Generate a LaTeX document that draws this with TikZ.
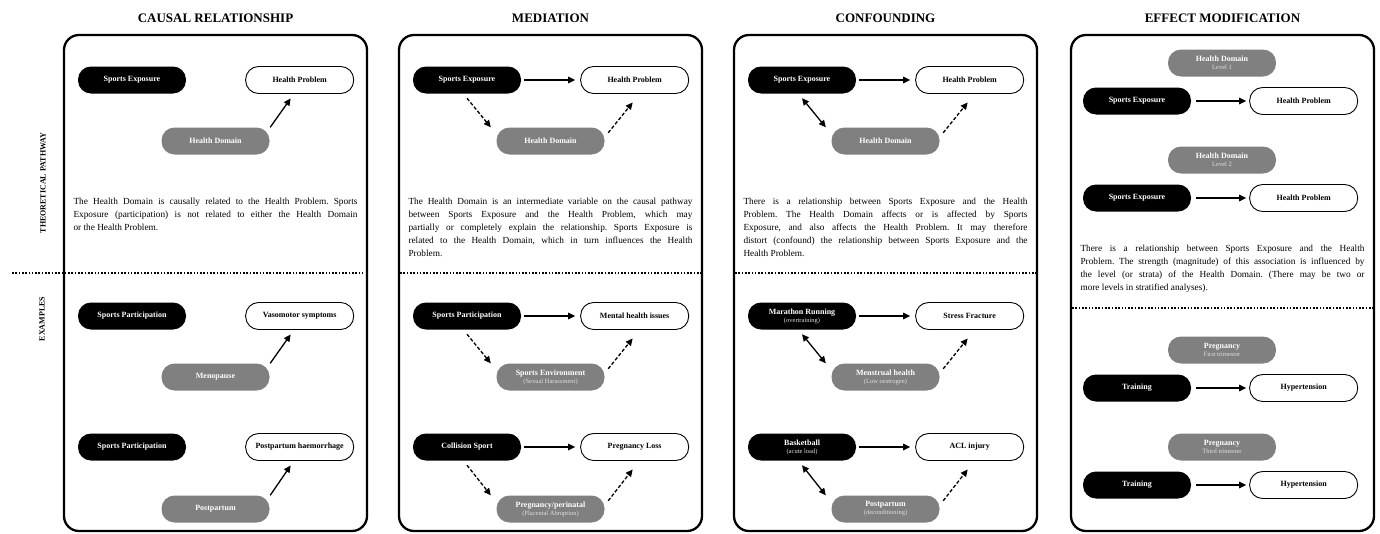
\documentclass[tikz,border=0pt]{standalone}
\usepackage{fontspec}
\setmainfont{Liberation Serif}
\usetikzlibrary{positioning,arrows.meta}

\newcommand{\subline}[1]{\\[-1pt]{\mdseries\fontsize{6.5}{7.5}\selectfont\color{black!12}#1}}

\begin{document}
\frenchspacing
\begin{tikzpicture}[x=1pt,y=-1pt,
exposure/.style={fill=black,
  text=white,
  rounded corners=13pt,
  minimum width=108pt,
  minimum height=27pt,
  inner sep=1pt,align=center,
  font=\fontsize{8}{9}\selectfont\bfseries
},
outcome/.style={exposure, fill=white, text=black, draw=black, line width=0.9pt},
healthdom/.style={exposure, fill=black!50},
panel/.style={line width=2.3pt, rounded corners=15pt},
title/.style={font=\fontsize{13}{15}\selectfont\bfseries},
side/.style={rotate=90, font=\fontsize{8}{9}\selectfont\bfseries},
note/.style={text width=284pt, align=justify, inner sep=0pt, anchor=north,
  font=\fontsize{9.3}{13}\selectfont},
divider/.style={line width=1.6pt, dash pattern=on 1.6pt off 1.7pt},
causal/.style={line width=1.3pt, -{Triangle[length=7pt,width=6.5pt]}},
linked/.style={line width=1.3pt, {Triangle[length=7pt,width=6.5pt]}-{Triangle[length=7pt,width=6.5pt]}},
maybe/.style={causal, dash pattern=on 3.5pt off 2pt}
]
\useasboundingbox (0,0) rectangle (1380,533);

\node (lbltheory) [side] at (43,183) {THEORETICAL PATHWAY};
\node (lblexamples) [side] at (42,319) {EXAMPLES};

% causal relationship
\begin{scope}[shift={(64,0)}]
\node (t1) [title] at (151.5,18) {CAUSAL RELATIONSHIP};
\draw [panel] (0,35) rectangle (303,531);
\draw [divider] (-52,273) -- (301,273);

\node (p1se) [exposure] at (68,80) {Sports Exposure};
\node (p1hp) [outcome, right=59pt of p1se] {Health Problem};
\node (p1hd) [healthdom] at (151.5,141) {Health Domain};
\node (p1txt) [note] at (151.5,198) {The Health Domain is causally related to the Health Problem. Sports\linebreak
Exposure (participation) is not related to either the Health Domain\linebreak
or the Health Problem.};

\node (p1ae) [exposure] at (68,316) {Sports Participation};
\node (p1ao) [outcome, right=59pt of p1ae] {Vasomotor symptoms};
\node (p1ad) [healthdom] at (151.5,377) {Menopause};

\node (p1be) [exposure] at (68,447) {Sports Participation};
\node (p1bo) [outcome, right=59pt of p1be] {Postpartum haemorrhage};
\node (p1bd) [healthdom] at (151.5,509) {Postpartum};

\draw [causal] ([xshift=0.5pt]p1hd.north east) -- ([shift={(-9pt,-4.5pt)}]p1hp.south);
\draw [causal] ([xshift=0.5pt]p1ad.north east) -- ([shift={(-9pt,-4.5pt)}]p1ao.south);
\draw [causal] ([xshift=0.5pt]p1bd.north east) -- ([shift={(-9pt,-4.5pt)}]p1bo.south);
\end{scope}

% mediation
\begin{scope}[shift={(399,0)}]
\node (t2) [title] at (151.5,18) {MEDIATION};
\draw [panel] (0,35) rectangle (303,531);
\draw [divider] (1,273) -- (302,273);

\node (p2se) [exposure] at (68,80) {Sports Exposure};
\node (p2hp) [outcome, right=59pt of p2se] {Health Problem};
\node (p2hd) [healthdom] at (151.5,141) {Health Domain};
\node (p2txt) [note] at (151.5,198) {The Health Domain is an intermediate variable on the causal pathway\linebreak
between Sports Exposure and the Health Problem, which may\linebreak
partially or completely explain the relationship. Sports Exposure is\linebreak
related to the Health Domain, which in turn influences the Health\linebreak
Problem.};

\node (p2ae) [exposure] at (68,316) {Sports Participation};
\node (p2ao) [outcome, right=59pt of p2ae] {Mental health issues};
\node (p2ad) [healthdom] at (151.5,377) {Sports Environment\subline{(Sexual Harassment)}};

\node (p2be) [exposure] at (68,447) {Collision Sport};
\node (p2bo) [outcome, right=59pt of p2be] {Pregnancy Loss};
\node (p2bd) [healthdom] at (151.5,509) {Pregnancy/perinatal\subline{(Placental Abruption)}};

\draw [causal] ([xshift=3pt]p2se.east) -- ([xshift=-5pt]p2hp.west);
\draw [maybe] ([yshift=-4.5pt]p2se.south) -- ([xshift=-5.5pt]p2hd.north west);
\draw [maybe] ([shift={(3.5pt,-5.5pt)}]p2hd.north east) -- ([shift={(-2pt,-8.5pt)}]p2hp.south);
\draw [causal] ([xshift=3pt]p2ae.east) -- ([xshift=-5pt]p2ao.west);
\draw [maybe] ([yshift=-4.5pt]p2ae.south) -- ([xshift=-5.5pt]p2ad.north west);
\draw [maybe] ([shift={(3.5pt,-5.5pt)}]p2ad.north east) -- ([shift={(-2pt,-8.5pt)}]p2ao.south);
\draw [causal] ([xshift=3pt]p2be.east) -- ([xshift=-5pt]p2bo.west);
\draw [maybe] ([yshift=-4.5pt]p2be.south) -- ([xshift=-5.5pt]p2bd.north west);
\draw [maybe] ([shift={(3.5pt,-5.5pt)}]p2bd.north east) -- ([shift={(-2pt,-8.5pt)}]p2bo.south);
\end{scope}

% confounding
\begin{scope}[shift={(734,0)}]
\node (t3) [title] at (151.5,18) {CONFOUNDING};
\draw [panel] (0,35) rectangle (303,531);
\draw [divider] (1,273) -- (302,273);

\node (p3se) [exposure] at (68,80) {Sports Exposure};
\node (p3hp) [outcome, right=59pt of p3se] {Health Problem};
\node (p3hd) [healthdom] at (151.5,141) {Health Domain};
\node (p3txt) [note] at (151.5,198) {There is a relationship between Sports Exposure and the Health\linebreak
Problem. The Health Domain affects or is affected by Sports\linebreak
Exposure, and also affects the Health Problem. It may therefore\linebreak
distort (confound) the relationship between Sports Exposure and the\linebreak
Health Problem.};

\node (p3ae) [exposure] at (68,316) {Marathon Running\subline{(overtraining)}};
\node (p3ao) [outcome, right=59pt of p3ae] {Stress Fracture};
\node (p3ad) [healthdom] at (151.5,377) {Menstrual health\subline{(Low oestrogen)}};

\node (p3be) [exposure] at (68,447) {Basketball\subline{(acute load)}};
\node (p3bo) [outcome, right=59pt of p3be] {ACL injury};
\node (p3bd) [healthdom] at (151.5,509) {Postpartum\subline{(deconditioning)}};

\draw [causal] ([xshift=3pt]p3se.east) -- ([xshift=-5pt]p3hp.west);
\draw [linked] ([yshift=-4.5pt]p3se.south) -- ([xshift=-5.5pt]p3hd.north west);
\draw [maybe] ([shift={(3.5pt,-5.5pt)}]p3hd.north east) -- ([shift={(-2pt,-8.5pt)}]p3hp.south);
\draw [causal] ([xshift=3pt]p3ae.east) -- ([xshift=-5pt]p3ao.west);
\draw [linked] ([yshift=-4.5pt]p3ae.south) -- ([xshift=-5.5pt]p3ad.north west);
\draw [maybe] ([shift={(3.5pt,-5.5pt)}]p3ad.north east) -- ([shift={(-2pt,-8.5pt)}]p3ao.south);
\draw [causal] ([xshift=3pt]p3be.east) -- ([xshift=-5pt]p3bo.west);
\draw [linked] ([yshift=-4.5pt]p3be.south) -- ([xshift=-5.5pt]p3bd.north west);
\draw [maybe] ([shift={(3.5pt,-5.5pt)}]p3bd.north east) -- ([shift={(-2pt,-8.5pt)}]p3bo.south);
\end{scope}

% effect modification
\begin{scope}[shift={(1071,0)}]
\node (t4) [title] at (151.5,18) {EFFECT MODIFICATION};
\draw [panel] (0,35) rectangle (303,531);
\draw [divider] (1,308) -- (302,308);

\node (p4d1) [healthdom] at (151,63) {Health Domain\subline{Level 1}};
\node (p4e1) [exposure] at (66,101) {Sports Exposure};
\node (p4o1) [outcome, right=58pt of p4e1] {Health Problem};
\node (p4d2) [healthdom] at (151,160) {Health Domain\subline{Level 2}};
\node (p4e2) [exposure] at (66,198) {Sports Exposure};
\node (p4o2) [outcome, right=58pt of p4e2] {Health Problem};
\node (p4txt) [note] at (151.5,245) {There is a relationship between Sports Exposure and the Health\linebreak
Problem. The strength (magnitude) of this association is influenced by\linebreak
the level (or strata) of the Health Domain. (There may be two or\linebreak
more levels in stratified analyses).};

\node (p4ad) [healthdom] at (151,350) {Pregnancy\subline{First trimester}};
\node (p4ae) [exposure] at (66,388) {Training};
\node (p4ao) [outcome, right=58pt of p4ae] {Hypertension};
\node (p4bd) [healthdom] at (151,447) {Pregnancy\subline{Third trimester}};
\node (p4be) [exposure] at (66,485) {Training};
\node (p4bo) [outcome, right=58pt of p4be] {Hypertension};

\draw [causal] ([xshift=5pt]p4e1.east) -- ([xshift=-3pt]p4o1.west);
\draw [causal] ([xshift=5pt]p4e2.east) -- ([xshift=-3pt]p4o2.west);
\draw [causal] ([xshift=5pt]p4ae.east) -- ([xshift=-3pt]p4ao.west);
\draw [causal] ([xshift=5pt]p4be.east) -- ([xshift=-3pt]p4bo.west);
\end{scope}
\end{tikzpicture}
\end{document}
